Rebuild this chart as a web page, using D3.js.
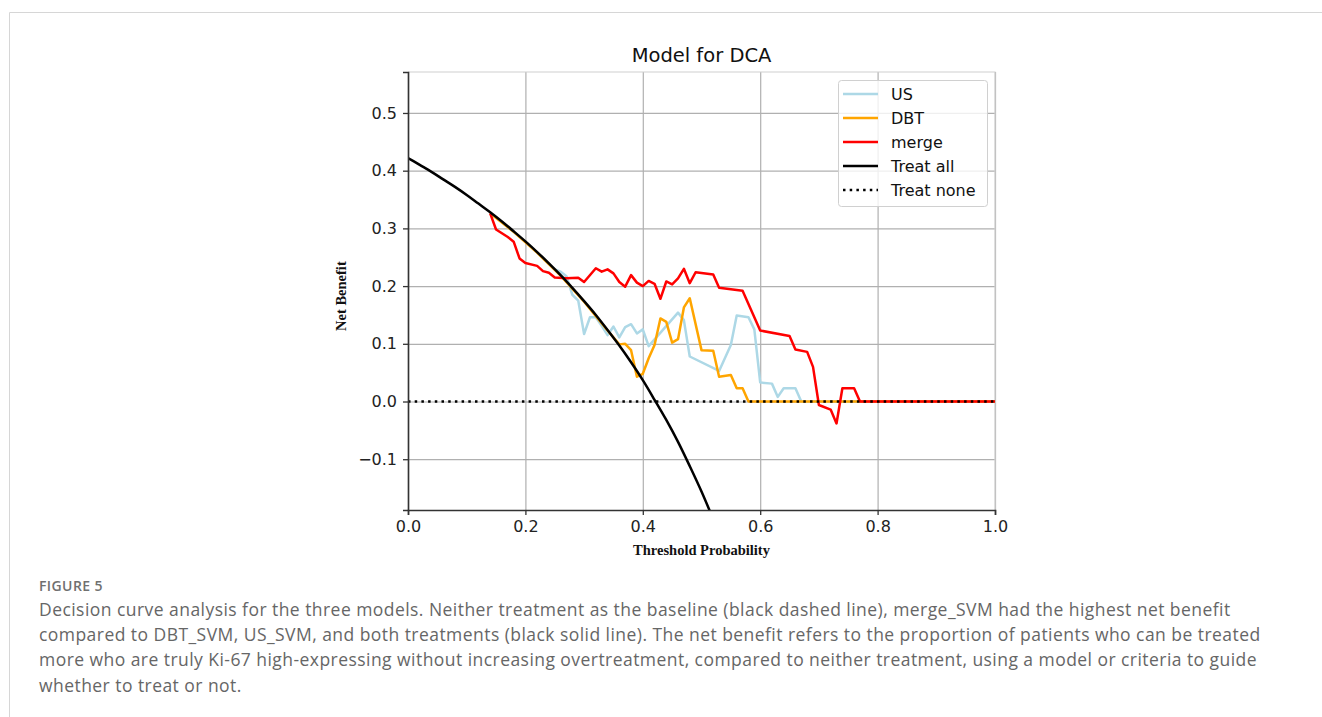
<!DOCTYPE html>
<html>
<head>
<meta charset="utf-8">
<script src="https://d3js.org/d3.v7.min.js"></script>
<style>
  body { margin: 0; background: #fff; }
  svg { display: block; }
  .tick text { font-family: 'DejaVu Sans', sans-serif; font-size: 16px; fill: #222; }
</style>
</head>
<body>
<div id="chart"></div>
<script>
  // values
  var usX   = [0.14, 0.16, 0.18, 0.20, 0.22, 0.24, 0.25, 0.26, 0.27, 0.28, 0.29, 0.30, 0.31, 0.32, 0.33, 0.34, 0.35, 0.36, 0.37, 0.38, 0.39, 0.40, 0.41, 0.46, 0.47, 0.48, 0.53, 0.55, 0.56, 0.58, 0.59, 0.60, 0.62, 0.63, 0.64, 0.66, 0.67, 1.00];
  var usY   = [0.326, 0.311, 0.294, 0.277, 0.258, 0.239, 0.229, 0.225, 0.217, 0.185, 0.175, 0.117, 0.146, 0.146, 0.131, 0.115, 0.130, 0.111, 0.129, 0.134, 0.118, 0.125, 0.096, 0.154, 0.141, 0.078, 0.053, 0.098, 0.149, 0.146, 0.125, 0.033, 0.031, 0.008, 0.023, 0.023, 0.0, 0.0];

  var dbtX  = [0.14, 0.18, 0.22, 0.26, 0.30, 0.34, 0.36, 0.37, 0.38, 0.39, 0.40, 0.41, 0.42, 0.43, 0.44, 0.45, 0.46, 0.47, 0.48, 0.50, 0.52, 0.53, 0.55, 0.56, 0.57, 0.58, 1.00];
  var dbtY  = [0.326, 0.294, 0.258, 0.218, 0.173, 0.123, 0.099, 0.100, 0.089, 0.043, 0.048, 0.075, 0.098, 0.144, 0.138, 0.102, 0.108, 0.163, 0.179, 0.089, 0.088, 0.043, 0.046, 0.023, 0.023, 0.0, 0.0];

  var mergeX = [0.14, 0.15, 0.17, 0.18, 0.19, 0.20, 0.22, 0.23, 0.24, 0.25, 0.27, 0.29, 0.30, 0.32, 0.33, 0.34, 0.35, 0.36, 0.37, 0.38, 0.39, 0.40, 0.41, 0.42, 0.43, 0.44, 0.45, 0.46, 0.47, 0.48, 0.49, 0.52, 0.53, 0.57, 0.60, 0.65, 0.66, 0.68, 0.69, 0.70, 0.72, 0.73, 0.74, 0.76, 0.77, 1.00];
  var mergeY = [0.326, 0.298, 0.285, 0.277, 0.248, 0.240, 0.235, 0.226, 0.223, 0.215, 0.2135, 0.2145, 0.207, 0.231, 0.225, 0.229, 0.222, 0.207, 0.199, 0.219, 0.206, 0.200, 0.209, 0.204, 0.178, 0.208, 0.203, 0.2135, 0.230, 0.205, 0.224, 0.220, 0.197, 0.192, 0.123, 0.1135, 0.090, 0.086, 0.060, -0.006, -0.014, -0.038, 0.023, 0.023, 0.0, 0.0];

  var allX = [0.00, 0.02, 0.04, 0.06, 0.08, 0.10, 0.12, 0.14, 0.16, 0.18, 0.20, 0.22, 0.24, 0.26, 0.28, 0.30, 0.32, 0.34, 0.36, 0.38, 0.40, 0.42, 0.44, 0.46, 0.48, 0.50, 0.52];
  var allY = [0.422, 0.410, 0.398, 0.385, 0.372, 0.358, 0.343, 0.328, 0.312, 0.295, 0.2775, 0.259, 0.2395, 0.219, 0.197, 0.174, 0.150, 0.124, 0.097, 0.068, 0.037, 0.003, -0.032, -0.070, -0.112, -0.156, -0.204];

  var noneX = [0.0, 1.0];
  var noneY = [0.0, 0.0];

  var xTicks = [0.0, 0.2, 0.4, 0.6, 0.8, 1.0];
  var yTicks = [-0.1, 0.0, 0.1, 0.2, 0.3, 0.4, 0.5];

  var seriesNames = ["US", "DBT", "merge", "Treat all", "Treat none"];
  var seriesColors = ["#add8e6", "#ffa500", "#ff0000", "#000000", "#000000"];

  var captionHead = "FIGURE 5";
  var captionLines = [
    "Decision curve analysis for the three models. Neither treatment as the baseline (black dashed line), merge_SVM had the highest net benefit",
    "compared to DBT_SVM, US_SVM, and both treatments (black solid line). The net benefit refers to the proportion of patients who can be treated",
    "more who are truly Ki-67 high-expressing without increasing overtreatment, compared to neither treatment, using a model or criteria to guide",
    "whether to treat or not."
  ];

  var W = 1322, H = 717;
  var margin = { top: 72, left: 408 };
  var width = 587, height = 438;

  var svg = d3.select("#chart").append("svg")
    .attr("width", W)
    .attr("height", H);

  // card border
  svg.append("path")
    .attr("d", "M9.5," + H + "V12.5H" + W)
    .attr("fill", "none")
    .attr("stroke", "#d6d6d6")
    .attr("stroke-width", 1);

  var g = svg.append("g")
    .attr("transform", "translate(" + margin.left + "," + margin.top + ")");

  var x = d3.scaleLinear().domain([0, 1]).range([0, width]);
  var y = d3.scaleLinear().domain([-0.188, 0.571]).range([height, 0]);

  // grid
  g.append("g")
    .attr("class", "grid")
    .attr("transform", "translate(0," + height + ")")
    .call(d3.axisBottom(x).tickValues(xTicks).tickSize(-height).tickFormat(""))
    .call(function (s) { s.select(".domain").remove(); })
    .selectAll("line").attr("stroke", "#b0b0b0").attr("stroke-width", 1.2);
  g.append("g")
    .attr("class", "grid")
    .call(d3.axisLeft(y).tickValues(yTicks).tickSize(-width).tickFormat(""))
    .call(function (s) { s.select(".domain").remove(); })
    .selectAll("line").attr("stroke", "#b0b0b0").attr("stroke-width", 1.2);

  // light top / right frame
  g.append("path")
    .attr("d", "M0,0H" + width + "V" + height)
    .attr("fill", "none")
    .attr("stroke", "#cfcfcf")
    .attr("stroke-width", 1.2);

  g.append("clipPath").attr("id", "clip")
    .append("rect").attr("width", width).attr("height", height);

  var line = d3.line()
    .x(function (d) { return x(d[0]); })
    .y(function (d) { return y(d[1]); });
  var smooth = d3.line()
    .curve(d3.curveMonotoneX)
    .x(function (d) { return x(d[0]); })
    .y(function (d) { return y(d[1]); });

  function zip(a, b) { return a.map(function (v, i) { return [v, b[i]]; }); }

  var series = [zip(usX, usY), zip(dbtX, dbtY), zip(mergeX, mergeY), zip(allX, allY), zip(noneX, noneY)];

  var lines = g.append("g").attr("clip-path", "url(#clip)");
  series.forEach(function (s, i) {
    lines.append("path")
      .datum(s)
      .attr("d", i === 3 ? smooth : line)
      .attr("fill", "none")
      .attr("stroke", seriesColors[i])
      .attr("stroke-width", 2.5)
      .attr("stroke-linejoin", "round")
      .attr("stroke-dasharray", i === 4 ? "2.5,4.2" : null);
  });

  // axes
  var xAxis = g.append("g")
    .attr("transform", "translate(0," + height + ")")
    .call(d3.axisBottom(x).tickValues(xTicks).tickSize(5).tickPadding(6).tickFormat(d3.format(".1f")));
  var yAxis = g.append("g")
    .call(d3.axisLeft(y).tickValues(yTicks).tickSize(5).tickPadding(6).tickFormat(d3.format(".1f")));
  [xAxis, yAxis].forEach(function (a) {
    a.select(".domain").attr("stroke", "#333").attr("stroke-width", 1.6);
    a.selectAll(".tick line").attr("stroke", "#333").attr("stroke-width", 1.3);
  });

  // labels
  svg.append("text")
    .attr("x", margin.left + width / 2)
    .attr("y", 62)
    .attr("text-anchor", "middle")
    .style("font-family", "'DejaVu Sans', sans-serif")
    .style("font-size", "19.5px")
    .attr("fill", "#111")
    .text("Model for DCA");

  svg.append("text")
    .attr("x", margin.left + width / 2)
    .attr("y", 555)
    .attr("text-anchor", "middle")
    .style("font-family", "'Liberation Serif', serif")
    .style("font-weight", "bold")
    .style("font-size", "14.5px")
    .attr("fill", "#111")
    .text("Threshold Probability");

  svg.append("text")
    .attr("transform", "translate(346," + (margin.top + y(0.2) + 10) + ")rotate(-90)")
    .attr("text-anchor", "middle")
    .style("font-family", "'Liberation Serif', serif")
    .style("font-weight", "bold")
    .style("font-size", "14.5px")
    .attr("fill", "#111")
    .text("Net Benefit");

  // legend
  var legend = svg.append("g").attr("transform", "translate(838,80)");
  legend.append("rect")
    .attr("x", 0.5).attr("y", 0.5)
    .attr("width", 149).attr("height", 126)
    .attr("rx", 3)
    .attr("fill", "rgba(255,255,255,0.8)")
    .attr("stroke", "#d0d0d0");
  seriesNames.forEach(function (name, i) {
    var ly = 14 + i * 24;
    legend.append("line")
      .attr("x1", 5).attr("x2", 40)
      .attr("y1", ly).attr("y2", ly)
      .attr("stroke", seriesColors[i])
      .attr("stroke-width", 2.5)
      .attr("stroke-dasharray", i === 4 ? "2.5,4.2" : null);
    legend.append("text")
      .attr("x", 53).attr("y", ly + 6)
      .style("font-family", "'DejaVu Sans', sans-serif")
      .style("font-size", "16px")
      .attr("fill", "#111")
      .text(name);
  });

  // caption
  svg.append("text")
    .attr("x", 39).attr("y", 591)
    .style("font-family", "'Open Sans', sans-serif")
    .style("font-weight", "600")
    .style("font-size", "14px")
    .style("letter-spacing", "0.4px")
    .attr("fill", "#707070")
    .text(captionHead);

  svg.selectAll(".cap")
    .data(captionLines)
    .enter()
    .append("text")
    .attr("class", "cap")
    .attr("x", 39)
    .attr("y", function (d, i) { return 616 + i * 25.2; })
    .style("font-family", "'Open Sans', sans-serif")
    .style("font-size", "17.5px")
    .style("letter-spacing", "0.45px")
    .attr("fill", "#666")
    .text(function (d) { return d; });
</script>
</body>
</html>
